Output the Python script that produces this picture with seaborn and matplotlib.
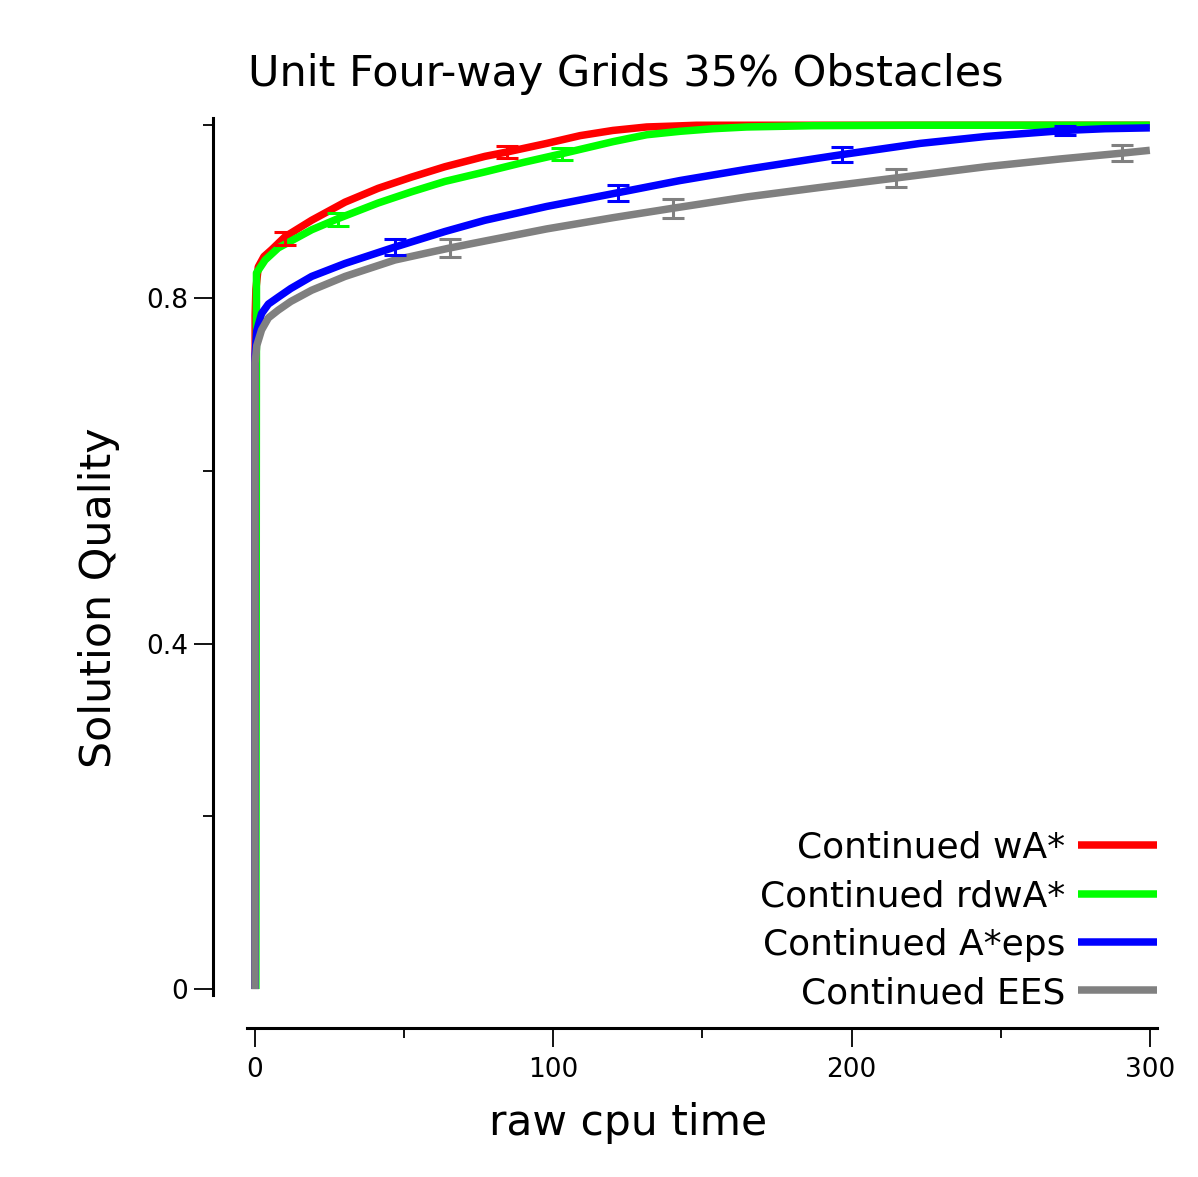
import matplotlib
matplotlib.use("Agg")
import matplotlib.pyplot as plt
import seaborn as sns
import pandas as pd
from matplotlib.ticker import FixedLocator

# ---------------- data ----------------
series_names = ["Continued wA*", "Continued rdwA*", "Continued A*eps", "Continued EES"]
series_colors = ["#ff0000", "#00ff00", "#0000ff", "#808080"]

wa_t = [0, 0.05, 0.3, 1.1, 3, 5.6, 10.1, 19, 30.2, 41.3, 52.5, 63.7, 77.1, 84.4, 97.8,
        109, 120, 131.3, 140, 148, 160, 200, 250, 300]
wa_q = [0, 0.78, 0.81, 0.836, 0.848, 0.856, 0.871, 0.890, 0.911, 0.927, 0.940, 0.952,
        0.964, 0.969, 0.979, 0.988, 0.994, 0.998, 0.999, 1.0, 1.0, 1.0, 1.0, 1.0]

rdwa_t = [0.3, 0.5, 3.4, 7.8, 19, 27.9, 41.3, 52.5, 63.7, 77.1, 90, 102.8, 120, 131.3,
          142.5, 153.6, 164.8, 187, 220, 300]
rdwa_q = [0, 0.829, 0.844, 0.858, 0.879, 0.892, 0.910, 0.923, 0.935, 0.946, 0.957,
          0.967, 0.981, 0.989, 0.993, 0.996, 0.998, 0.9995, 1.0, 1.0]

aeps_t = [0, 0.05, 0.6, 2.2, 4.5, 7.8, 12, 19, 30.2, 46.9, 63.7, 77.1, 97.8, 121.8,
          142.5, 164.8, 187.2, 196.7, 223, 245, 271.5, 285, 300]
aeps_q = [0, 0.735, 0.762, 0.782, 0.793, 0.801, 0.811, 0.825, 0.840, 0.859, 0.877,
          0.890, 0.906, 0.922, 0.936, 0.949, 0.961, 0.966, 0.979, 0.987, 0.994, 0.996, 0.997]

ees_t = [0, 0.05, 0.6, 2.2, 4.5, 7.8, 12, 19, 30.2, 46.9, 65.4, 77.1, 97.8, 120,
         140.2, 164.8, 189.4, 215, 245, 270, 290, 300]
ees_q = [0, 0.725, 0.745, 0.763, 0.777, 0.786, 0.796, 0.809, 0.825, 0.844, 0.858,
         0.866, 0.880, 0.893, 0.904, 0.917, 0.928, 0.939, 0.952, 0.961, 0.9675, 0.971]

# error bars (position, mean, half-width)
wa_err_t = [10.1, 84.4]
wa_err_q = [0.869, 0.969]
wa_err = [0.0073, 0.0068]

rdwa_err_t = [27.9, 102.8]
rdwa_err_q = [0.891, 0.967]
rdwa_err = [0.0073, 0.0071]

aeps_err_t = [46.9, 121.8, 196.7, 271.5]
aeps_err_q = [0.859, 0.922, 0.966, 0.994]
aeps_err = [0.0093, 0.0093, 0.0087, 0.0048]

ees_err_t = [65.4, 140.2, 215, 290.5]
ees_err_q = [0.858, 0.904, 0.939, 0.9675]
ees_err = [0.0104, 0.0108, 0.0102, 0.0093]

x_major = [0, 100, 200, 300]
x_minor = [50, 150, 250]
y_major = [0, 0.4, 0.8]
y_major_labels = ["0", "0.4", "0.8"]
y_minor = [0.2, 0.6, 1.0]

title = "Unit Four-way Grids 35% Obstacles"
xlabel = "raw cpu time"
ylabel = "Solution Quality"

# ---------------- build table ----------------
all_t = [wa_t, rdwa_t, aeps_t, ees_t]
all_q = [wa_q, rdwa_q, aeps_q, ees_q]
frames = []
for name, t, q in zip(series_names, all_t, all_q):
    frames.append(pd.DataFrame({"time": t, "quality": q, "alg": name}))
df = pd.concat(frames, ignore_index=True)

err_sets = [
    (wa_err_t, wa_err_q, wa_err),
    (rdwa_err_t, rdwa_err_q, rdwa_err),
    (aeps_err_t, aeps_err_q, aeps_err),
    (ees_err_t, ees_err_q, ees_err),
]

# ---------------- plot ----------------
sns.set_theme(style="ticks")
plt.rcParams["font.family"] = ["DejaVu Sans"]
plt.rcParams["text.color"] = "black"
plt.rcParams["axes.labelcolor"] = "black"

W, H = 1198, 1177
fig = plt.figure(figsize=(W / 100, H / 100), dpi=100)
fig.patch.set_facecolor("white")
ax = fig.add_axes([247 / W, 1 - 995 / H, (1157 - 247) / W, (995 - 118) / H])
ax.set_facecolor("white")

palette = dict(zip(series_names, series_colors))
sns.lineplot(data=df, x="time", y="quality", hue="alg", hue_order=series_names,
             palette=palette, linewidth=5.4, ax=ax, sort=False, estimator=None,
             legend=True)
for line in ax.get_lines():
    line.set_solid_joinstyle("round")
    line.set_solid_capstyle("butt")

for (et, eq, ee), col in zip(err_sets, series_colors):
    ax.errorbar(et, eq, yerr=ee, fmt="none", ecolor=col, elinewidth=2.2,
                capsize=8.2, capthick=2.2, zorder=3)

ax.set_xlim(-2.68, 302.4)
ax.set_ylim(-0.0069, 1.0084)

ax.xaxis.set_major_locator(FixedLocator(x_major))
ax.xaxis.set_minor_locator(FixedLocator(x_minor))
ax.yaxis.set_major_locator(FixedLocator(y_major))
ax.yaxis.set_minor_locator(FixedLocator(y_minor))
ax.set_xticklabels([str(v) for v in x_major])
ax.set_yticklabels(y_major_labels)

ax.spines["top"].set_visible(False)
ax.spines["right"].set_visible(False)
ax.spines["left"].set_position(("outward", 24.5))
ax.spines["bottom"].set_position(("outward", 23.8))
for s in ("left", "bottom"):
    ax.spines[s].set_linewidth(2.2)
    ax.spines[s].set_color("black")

ax.tick_params(axis="both", which="major", length=14, width=1.3, color="black",
               labelsize=19, labelcolor="black", direction="out")
ax.tick_params(axis="y", which="major", pad=4)
ax.tick_params(axis="x", which="major", pad=7)
ax.tick_params(axis="both", which="minor", length=7, width=1.3, color="black",
               direction="out")
ax.grid(False)
ax.set_xlabel("")
ax.set_ylabel("")

fig.text(248 / W, 1 - 86 / H, title, fontsize=31, color="black",
         ha="left", va="baseline")
fig.text(628 / W, 1 - 1135 / H, xlabel, fontsize=30.5, color="black",
         ha="center", va="baseline")
fig.text(99 / W, 1 - 598 / H, ylabel, fontsize=30.8, color="black",
         ha="center", va="center", rotation=90)

handles, labels = ax.get_legend_handles_labels()
leg = ax.legend(handles, labels, loc="lower right", markerfirst=False,
                frameon=False, fontsize=25.9, handlelength=2.2,
                handletextpad=0.36, labelspacing=0.40, borderpad=0,
                borderaxespad=0,
                bbox_to_anchor=(1157 / W, 1 - 1010 / H),
                bbox_transform=fig.transFigure)
for line in leg.get_lines():
    line.set_linewidth(5.4)
for txt in leg.get_texts():
    txt.set_color("black")

fig.savefig("out.png", dpi=100, facecolor="white")
